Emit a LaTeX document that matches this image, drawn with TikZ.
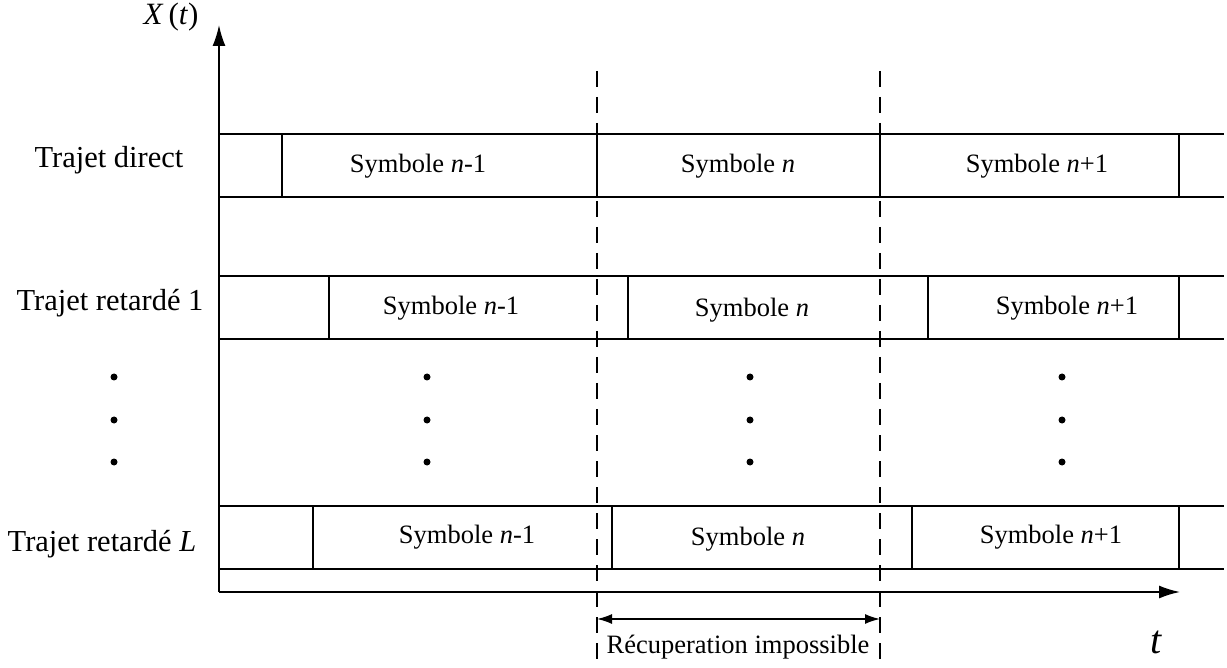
\documentclass[tikz,border=0pt]{standalone}
\usepackage{fontspec}
\setmainfont{Liberation Serif}
\usetikzlibrary{arrows.meta,positioning}

\begin{document}
\begin{tikzpicture}[
    x=1pt, y=-1pt,
    frame/.style={line width=1.8pt, draw=black},
    guide/.style={line width=1.8pt, dash pattern=on 16pt off 10pt},
    axis/.style={-{Latex[length=21pt,width=13pt]}, line width=1.8pt},
    span/.style={{Latex[length=15pt,width=10pt]}-{Latex[length=15pt,width=10pt]}, line width=1.6pt},
    lab/.style={font=\fontsize{30.5}{32}\selectfont, inner sep=0pt},
    sym/.style={font=\fontsize{26.5}{28}\selectfont, inner sep=0pt},
    dot/.style={circle, fill=black, inner sep=0pt, minimum size=7pt}
]
\useasboundingbox (0,0) rectangle (1227,668);

% rows: top, bottom and the three symbol borders
\foreach \top/\bot/\da/\db/\dc in {134/197/282/597/880, 276/339/329/628/928, 506/569/313/612/912}{
    \draw[frame] (219,\top) -- (1224,\top);
    \draw[frame] (219,\bot) -- (1224,\bot);
    \foreach \d in {\da,\db,\dc,1179}
        \draw[frame] (\d,\top) -- (\d,\bot);
}

\coordinate (origin) at (219,592);
\coordinate (ytop) at (219,25);
\coordinate (xend) at (1180,592);
\draw[axis] (origin) -- (ytop);
\draw[axis] (origin) -- (xend);

\node[lab, font=\fontsize{31}{33}\selectfont] (xlab) at (171,17) {\textit{X}\,(\textit{t})};
\node[lab, font=\fontsize{40}{42}\selectfont] (tlab) at (1156,642) {\textit{t}};

\node[lab] (direct) at (109,160) {Trajet direct};
\node[lab] (ret1) at (110,303) {Trajet retard\'e 1};
\node[lab] (retL) at (102,544) {Trajet retard\'e \textit{L}};

\node[sym] (d1) at (418,166) {Symbole \textit{n}-1};
\node[sym] (d2) at (738,166) {Symbole \textit{n}};
\node[sym] (d3) at (1037,166) {Symbole \textit{n}+1};
\node[sym] (a1) at (451,308) {Symbole \textit{n}-1};
\node[sym] (a2) at (752,310) {Symbole \textit{n}};
\node[sym] (a3) at (1067,308) {Symbole \textit{n}+1};
\node[sym] (l1) at (467,537) {Symbole \textit{n}-1};
\node[sym] (l2) at (748,539) {Symbole \textit{n}};
\node[sym] (l3) at (1051,537) {Symbole \textit{n}+1};

\foreach \x in {114,427,750,1062}
    \foreach \y in {377,420,462}
        \node[dot] at (\x,\y) {};

\coordinate (cutA) at (597,71);
\coordinate (cutAend) at (597,668);
\coordinate (cutB) at (880,71);
\coordinate (cutBend) at (880,668);
\draw[guide] (cutA) -- (cutAend);
\draw[guide] (cutB) -- (cutBend);

\coordinate (spanA) at (597,619);
\coordinate (spanB) at (880,619);
\draw[span] (spanA) -- (spanB);
\node[sym] (lost) at (738,647) {R\'ecuperation impossible};

\end{tikzpicture}
\end{document}
